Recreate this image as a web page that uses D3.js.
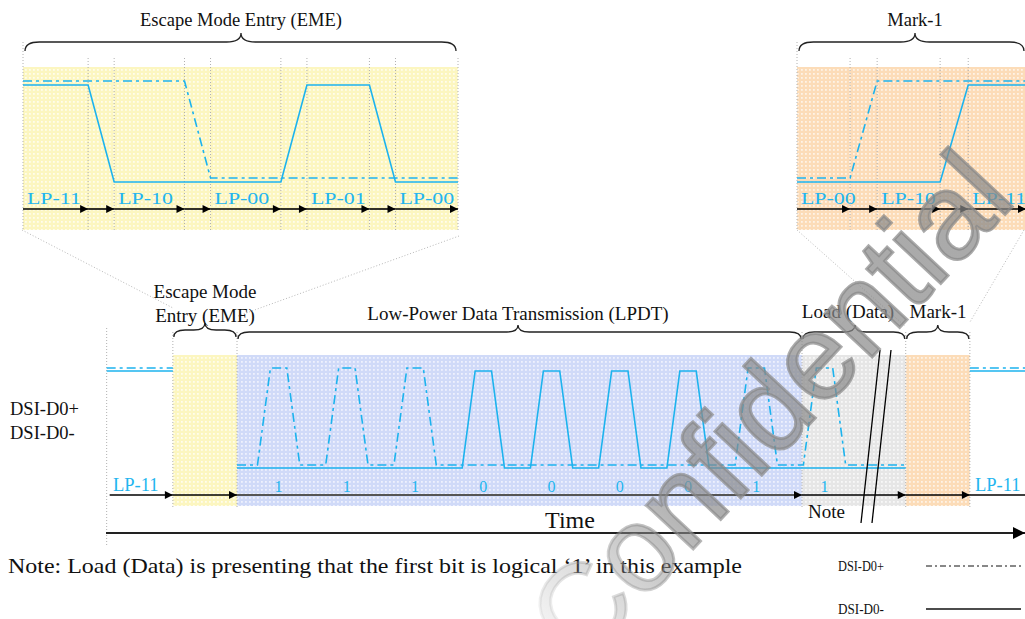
<!DOCTYPE html>
<html><head><meta charset="utf-8">
<script src="https://cdn.jsdelivr.net/npm/d3@7"></script>
<style>
html,body{margin:0;padding:0;background:#fff;}
</style></head>
<body>
<script>
// ---------------- data ----------------
const emeStates = ["LP-11", "LP-10", "LP-00", "LP-01", "LP-00"];
const emeTimes = [0, 2.5, 3.5, 6.2, 7.2, 9.9, 10.9, 13.3, 14.3, 16.7];
const markStates = ["LP-00", "LP-10", "LP-11"];
const markTimes = [0, 2.04, 3.08, 5.5, 6.58, 8.8];
const phaseNames = ["LP-11", "Escape Mode Entry (EME)", "Low-Power Data Transmission (LPDT)", "Load (Data)", "Mark-1", "LP-11"];
const phaseBounds = [-1.91, -0.94, 0, 8.28, 9.8, 10.74, 11.6];
const lpdtBits = [1, 1, 1, 0, 0, 0, 0, 1];
const loadBits = [1];
const pulseShape = [0.3, 0.49, 0.73, 0.92]; // rise start, rise end, fall start, fall end (bit units)
const legendItems = ["DSI-D0+", "DSI-D0-"];
const noteText = "Note: Load (Data) is presenting that the first bit is logical \u20181\u2019 in this example";

// ---------------- setup ----------------
const W = 1025, H = 619;
const SERIF = "Liberation Serif, Times New Roman, serif";
const CY = "#1cb3ee", CYT = "#22b5ef";
const DASH = "9,4,3,4";
const svg = d3.select("body").append("svg").attr("width", W).attr("height", H)
  .attr("font-family", SERIF).style("display", "block");
const defs = svg.append("defs");
function pattern(id, base, dot, sz) {
  const p = defs.append("pattern").attr("id", id).attr("patternUnits", "userSpaceOnUse")
    .attr("width", sz).attr("height", sz);
  p.append("rect").attr("width", sz).attr("height", sz).attr("fill", base);
  p.append("rect").attr("x", 1).attr("y", 1).attr("width", sz - 2.2).attr("height", sz - 2.2).attr("fill", dot);
}
pattern("pYel", "#fcf6c0", "#fffdec", 4);
pattern("pOra", "#fcdcb8", "#fef3e6", 4);
pattern("pBlu", "#d0daf8", "#eef1fd", 4);
pattern("pGry", "#e6e6e6", "#f8f8f8", 4);
const mk = defs.append("marker").attr("id", "ah").attr("viewBox", "0 0 10 10")
  .attr("refX", 10).attr("refY", 5).attr("markerWidth", 10).attr("markerHeight", 8)
  .attr("markerUnits", "userSpaceOnUse").attr("orient", "auto");
mk.append("path").attr("d", "M0,0 L10,5 L0,10 Z").attr("fill", "#000");
const mk2 = defs.append("marker").attr("id", "ahBig").attr("viewBox", "0 0 10 10")
  .attr("refX", 10).attr("refY", 5).attr("markerWidth", 12).attr("markerHeight", 12)
  .attr("markerUnits", "userSpaceOnUse").attr("orient", "auto");
mk2.append("path").attr("d", "M0,0 L10,5 L0,10 Z").attr("fill", "#000");

function brace(x1, x2, y, w, mid) {
  mid = mid === undefined ? (x1 + x2) / 2 : mid;
  const c = Math.min(w * 1.6, (mid - x1) / 2, (x2 - mid) / 2);
  return `M${x1},${y + w} Q${x1},${y} ${x1 + c},${y} L${mid - c},${y} Q${mid},${y} ${mid},${y - w}` +
    ` Q${mid},${y} ${mid + c},${y} L${x2 - c},${y} Q${x2},${y} ${x2},${y + w}`;
}
function dottedV(g, x, y1, y2) {
  g.append("line").attr("x1", x).attr("x2", x).attr("y1", y1).attr("y2", y2)
    .attr("stroke", "#b0b0b0").attr("stroke-width", 1).attr("stroke-dasharray", "1,2");
}
const lvl = s => ({ p: +s[3], n: +s[4] }); // LP-xy : x = D0+, y = D0-

function stateWave(states, times, key) {
  const pts = [];
  states.forEach((s, i) => {
    const v = lvl(s)[key];
    pts.push([times[2 * i], v], [times[2 * i + 1], v]);
  });
  return pts;
}

// connecting dotted lines
const conn = svg.append("g").attr("stroke", "#b8b8b8").attr("stroke-width", 1).attr("stroke-dasharray", "1,2");
conn.append("line").attr("x1", 22).attr("y1", 230).attr("x2", 173).attr("y2", 308);
conn.append("line").attr("x1", 459).attr("y1", 236).attr("x2", 238).attr("y2", 316);
conn.append("line").attr("x1", 797).attr("y1", 230).attr("x2", 905).attr("y2", 326);
conn.append("line").attr("x1", 1024).attr("y1", 230).attr("x2", 970).attr("y2", 322);

// ---------------- inset drawing ----------------
function inset(states, times, x0, x1, fill, title, titleX) {
  const g = svg.append("g");
  const x = d3.scaleLinear().domain([times[0], times[times.length - 1]]).range([x0, x1]);
  g.append("rect").attr("x", x0).attr("y", 67).attr("width", x1 - x0).attr("height", 163).attr("fill", fill);
  times.forEach((t, i) => dottedV(g, x(t), i === 0 ? 42 : 58, 230));
  g.append("path").attr("d", brace(x0 + 2, x1 - 2, 42, 9, titleX)).attr("fill", "none").attr("stroke", "#222").attr("stroke-width", 1.3);
  g.append("text").attr("x", titleX).attr("y", 26).attr("text-anchor", "middle").attr("font-size", 18.5).attr("fill", "#111").text(title);
  const line = d3.line();
  const yP = d3.scaleLinear().domain([0, 1]).range([178, 81]);
  const yN = d3.scaleLinear().domain([0, 1]).range([182, 85]);
  g.append("path").attr("d", line(stateWave(states, times, "p").map(d => [x(d[0]), yP(d[1])])))
    .attr("fill", "none").attr("stroke", CY).attr("stroke-width", 1.6).attr("stroke-dasharray", DASH);
  g.append("path").attr("d", line(stateWave(states, times, "n").map(d => [x(d[0]), yN(d[1])])))
    .attr("fill", "none").attr("stroke", CY).attr("stroke-width", 1.6);
  for (let i = 0; i < times.length - 1; i++) {
    g.append("line").attr("x1", x(times[i])).attr("x2", x(times[i + 1])).attr("y1", 209).attr("y2", 209)
      .attr("stroke", "#000").attr("stroke-width", 1.6).attr("marker-end", "url(#ah)");
  }
  states.forEach((s, i) => {
    g.append("text").attr("transform", `translate(${x(times[2 * i]) + 4},204) scale(1.25,1)`)
      .attr("font-size", 17.5).attr("fill", CYT).text(s);
  });
}
inset(emeStates, emeTimes, 23, 458, "url(#pYel)", "Escape Mode Entry (EME)", 241);
inset(markStates, markTimes, 797, 1026, "url(#pOra)", "Mark-1", 915);

// ---------------- main diagram ----------------
const main = svg.append("g");
const x = d3.scaleLinear().domain([phaseBounds[2], phaseBounds[3]]).range([237, 802]);
const yN = d3.scaleLinear().domain([0, 1]).range([468, 371]);
const yP = d3.scaleLinear().domain([0, 1]).range([465, 368]);
const fills = [null, "url(#pYel)", "url(#pBlu)", "url(#pGry)", "url(#pOra)", null];
phaseBounds.slice(0, -1).forEach((b, i) => {
  if (fills[i]) main.append("rect").attr("x", x(b)).attr("y", 355).attr("width", x(phaseBounds[i + 1]) - x(b))
    .attr("height", 151).attr("fill", fills[i]);
});
dottedV(main, x(phaseBounds[0]), 328, 546);
[1, 2, 3, 4, 5].forEach(i => dottedV(main, x(phaseBounds[i]), 332, 508));

const braceY = 332;
const bs = (a, b, yy, m) => main.append("path").attr("d", brace(a, b, yy, 7, m))
  .attr("fill", "none").attr("stroke", "#222").attr("stroke-width", 1.3);
bs(x(phaseBounds[1]) + 1, x(phaseBounds[2]) - 1, braceY - 2);
bs(x(phaseBounds[2]) + 1, x(phaseBounds[3]) - 1, braceY, 518);
bs(x(phaseBounds[3]) + 1, x(phaseBounds[4]) - 1, braceY, 855);
bs(x(phaseBounds[4]) + 1, x(phaseBounds[5]) - 1, braceY);
const lab = (t, xx, yy) => main.append("text").attr("x", xx).attr("y", yy)
  .attr("text-anchor", "middle").attr("font-size", 19).attr("fill", "#111").text(t);
lab("Escape Mode", 205, 298);
lab("Entry (EME)", 205, 322);
lab(phaseNames[2], 518, 320);
lab(phaseNames[3], 848, 318);
lab(phaseNames[4], 938, 318);

// waveforms
const line = d3.line();
const hiL = [[phaseBounds[0], 1], [phaseBounds[1], 1]];
const hiR = [[phaseBounds[5], 1], [phaseBounds[6], 1]];
const allBits = lpdtBits.concat(loadBits);
const wave = (key) => {
  const pts = [[phaseBounds[2], 0]];
  allBits.forEach((b, k) => {
    const on = key === "p" ? b === 1 : b === 0;
    if (on) pts.push([k + pulseShape[0], 0], [k + pulseShape[1], 1], [k + pulseShape[2], 1], [k + pulseShape[3], 0]);
  });
  pts.push([phaseBounds[4], 0]);
  return pts;
};
[[yP, "p", DASH], [yN, "n", null]].forEach(([ys, key, da]) => {
  [hiL, hiR, wave(key)].forEach(seg => {
    main.append("path").attr("d", line(seg.map(d => [x(d[0]), ys(d[1])])))
      .attr("fill", "none").attr("stroke", CY).attr("stroke-width", 1.6).attr("stroke-dasharray", da);
  });
});
allBits.forEach((b, k) => {
  main.append("text").attr("x", x(k + (pulseShape[0] + pulseShape[3]) / 2)).attr("y", 492)
    .attr("text-anchor", "middle").attr("font-size", 16).attr("fill", CYT).text(b);
});
main.append("text").attr("x", 113).attr("y", 491).attr("font-size", 18.5).attr("fill", CYT).text(phaseNames[0]);
main.append("text").attr("x", 975).attr("y", 491).attr("font-size", 18.5).attr("fill", CYT).text(phaseNames[5]);

// phase arrows
phaseBounds.slice(0, -1).forEach((b, i) => {
  const last = i === phaseBounds.length - 2;
  main.append("line").attr("x1", x(b) + (i === 0 ? 3 : 0)).attr("x2", x(phaseBounds[i + 1]))
    .attr("y1", 495).attr("y2", 495)
    .attr("stroke", i === 2 ? "#555" : "#000").attr("stroke-width", i === 2 ? 2.2 : 1.6)
    .attr("marker-end", last ? null : "url(#ah)");
});

// break marks
main.append("line").attr("x1", 880).attr("y1", 350).attr("x2", 861).attr("y2", 523).attr("stroke", "#000").attr("stroke-width", 1.3);
main.append("line").attr("x1", 891).attr("y1", 350).attr("x2", 872).attr("y2", 523).attr("stroke", "#000").attr("stroke-width", 1.3);
main.append("text").attr("x", 808).attr("y", 518).attr("font-size", 19).attr("fill", "#111").text("Note");

// time axis
main.append("line").attr("x1", 106).attr("x2", 1025).attr("y1", 533).attr("y2", 533)
  .attr("stroke", "#222").attr("stroke-width", 2).attr("marker-end", "url(#ahBig)");
main.append("text").attr("x", 570).attr("y", 528).attr("text-anchor", "middle").attr("font-size", 24).attr("fill", "#111").text("Time");

// signal names
main.append("text").attr("x", 10).attr("y", 415).attr("font-size", 18.5).attr("fill", "#111").text(legendItems[0]);
main.append("text").attr("x", 10).attr("y", 439).attr("font-size", 18.5).attr("fill", "#111").text(legendItems[1]);

// note + legend
svg.append("text").attr("x", 8).attr("y", 573).attr("font-size", 21).attr("fill", "#111")
  .attr("textLength", 734).attr("lengthAdjust", "spacingAndGlyphs").text(noteText);
legendItems.forEach((t, i) => {
  const yy = 571 + i * 43;
  svg.append("text").attr("x", 838).attr("y", yy).attr("font-size", 15).attr("fill", "#111")
    .attr("textLength", 46).attr("lengthAdjust", "spacingAndGlyphs").text(t);
  svg.append("line").attr("x1", 926).attr("x2", 1021).attr("y1", yy - 5).attr("y2", yy - 5)
    .attr("stroke", "#111").attr("stroke-width", i === 0 ? 1 : 1.3).attr("stroke-dasharray", i === 0 ? "6,3,2,3" : null);
});

// watermark
const wg = defs.append("linearGradient").attr("id", "wmg").attr("x1", "0").attr("x2", "1").attr("y1", "0").attr("y2", "0");
wg.append("stop").attr("offset", "0").attr("stop-color", "#999").attr("stop-opacity", 0.1);
wg.append("stop").attr("offset", "0.3").attr("stop-color", "#888").attr("stop-opacity", 0.68);
wg.append("stop").attr("offset", "1").attr("stop-color", "#888").attr("stop-opacity", 0.72);
svg.append("text").attr("transform", "translate(582,668) rotate(-47)")
  .attr("font-family", "Liberation Sans, Arial, sans-serif").attr("font-size", 121)
  .attr("fill", "url(#wmg)").attr("stroke", "url(#wmg)").attr("stroke-width", 3).text("Confidential");
</script>
</body></html>
